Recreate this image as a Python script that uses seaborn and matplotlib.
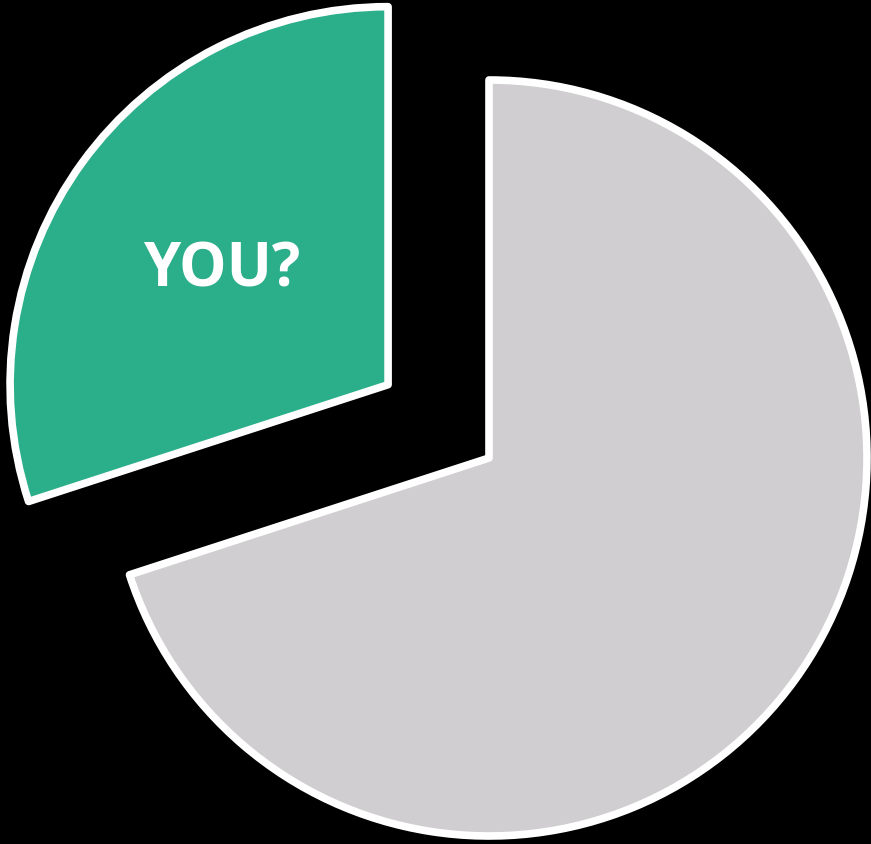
import matplotlib
matplotlib.use("Agg")
import matplotlib.pyplot as plt
import seaborn as sns

labels = ["YOU?", "Others"]
shares = [30, 70]
colors = ["#2BAE8A", "#D0CED0"]
explode_frac = [0.33, 0.0]

sns.set_style("white")
plt.rcParams["font.family"] = ["Open Sans", "DejaVu Sans"]

fig = plt.figure(figsize=(8.71, 8.44), dpi=100, facecolor="black")
ax = fig.add_axes([0, 0, 1, 1])
ax.set_facecolor("black")

R = 378
wedges, texts, autotexts = ax.pie(
    shares,
    colors=colors,
    explode=[e * R for e in explode_frac],
    startangle=90,
    counterclock=True,
    center=(489, 844 - 458),
    radius=R,
    autopct=lambda p: labels[0] if p < 50 else "",
    pctdistance=0.545,
    wedgeprops=dict(edgecolor="white", linewidth=5.5, joinstyle="round"),
    textprops=dict(color="white", fontsize=43, fontweight="bold"),
    frame=True,
)
for t in autotexts:
    t.set_verticalalignment("center_baseline")
ax.set_xlim(0, 871)
ax.set_ylim(0, 844)
ax.set_aspect("equal")
ax.axis("off")

fig.savefig("out.png", dpi=100, facecolor="black")
